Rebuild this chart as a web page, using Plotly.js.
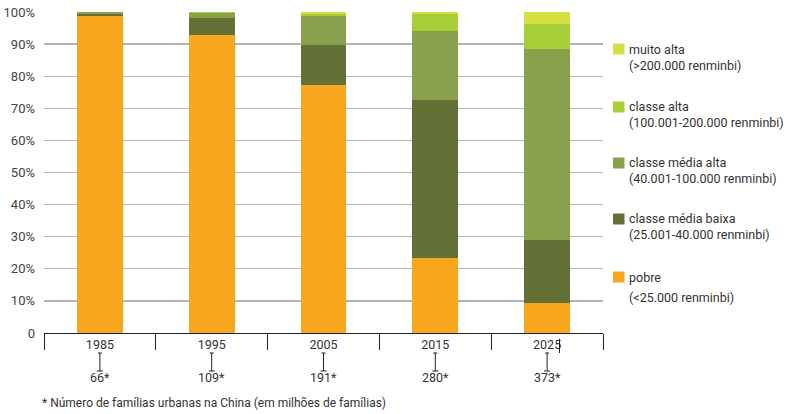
<!DOCTYPE html>
<html>
<head>
<meta charset="utf-8">
<script src="https://cdn.plot.ly/plotly-3.0.1.min.js"></script>
<style>html,body{margin:0;padding:0;background:#fff;}#chart{width:801px;height:414px;}</style>
</head>
<body>
<div id="chart"></div>
<script>
// ---- data ----
var years = ['1985', '1995', '2005', '2015', '2025'];
var households = ['66*', '109*', '191*', '280*', '373*'];
var pobre = [98.8, 92.9, 77.3, 23.3, 9.4];
var mediaBaixa = [0.6, 5.2, 12.5, 49.3, 19.6];
var mediaAlta = [0.6, 1.7, 9.0, 21.5, 59.6];
var alta = [0, 0.8, 0.6, 5.3, 7.7];
var muitoAlta = [0, 0, 0.6, 0.6, 3.7];
var seriesNames = ['pobre', 'classe média baixa', 'classe média alta', 'classe alta', 'muito alta'];
var seriesRanges = ['(<25.000 renminbi)', '(25.001-40.000 renminbi)', '(40.001-100.000 renminbi)', '(100.001-200.000 renminbi)', '(>200.000 renminbi)'];
var seriesColors = ['#f8a61d', '#637036', '#89a14c', '#a8ce38', '#d4df40'];
var yTickVals = [0, 10, 20, 30, 40, 50, 60, 70, 80, 90, 100];
var yTickText = ['0', '10%', '20%', '30%', '40%', '50%', '60%', '70%', '80%', '90%', '100%'];
var footnote = '* Número de famílias urbanas na China (em milhões de famílias)';

// ---- layout helpers (pixel -> paper) ----
var W = 801, H = 414, L = 44, R = 198, T = 12, B = 81;
var PW = W - L - R, PH = H - T - B;
function px(x) { return (x - L) / PW; }
function py(y) { return (H - B - y) / PH; }

var values = [pobre, mediaBaixa, mediaAlta, alta, muitoAlta];
var traces = values.map(function (v, i) {
  return {
    type: 'bar', x: years, y: v, name: seriesNames[i],
    marker: { color: seriesColors[i], line: { width: 0 } },
    hoverinfo: 'x+y+name', showlegend: false
  };
});

var fontFam = 'Roboto, "Noto Sans", sans-serif';
var shapes = [], annotations = [];

// connectors and household counts under each year
years.forEach(function (yr, i) {
  shapes.push({ type: 'line', xref: 'x', yref: 'paper', x0: i, x1: i, y0: py(353), y1: py(371), line: { color: '#222', width: 1 } });
  shapes.push({ type: 'line', xref: 'x', xsizemode: 'pixel', xanchor: i, yref: 'paper', x0: -2, x1: 2, y0: py(353), y1: py(353), line: { color: '#222', width: 1 } });
  shapes.push({ type: 'line', xref: 'x', xsizemode: 'pixel', xanchor: i, yref: 'paper', x0: -3, x1: 3, y0: py(371), y1: py(371), line: { color: '#222', width: 1 } });
  annotations.push({ xref: 'x', yref: 'paper', x: i, y: py(378), text: households[i], showarrow: false, xanchor: 'center', yanchor: 'middle', font: { family: fontFam, size: 12.5, color: '#333' } });
});
// stray tick next to 2025 label in the original
shapes.push({ type: 'line', xref: 'paper', yref: 'paper', x0: px(559.5), x1: px(559.5), y0: py(339), y1: py(353), line: { color: '#222', width: 1 } });

// footnote
annotations.push({ xref: 'paper', yref: 'paper', x: px(40), y: py(403), text: footnote, showarrow: false, xanchor: 'left', yanchor: 'middle', font: { family: fontFam, size: 12, color: '#333' } });

// legend (top to bottom: reversed stack order)
var legendLine1Y = [277, 219, 163, 107, 49];
var legendLine2Y = [297, 233, 177, 121, 64];
var legendFont = { family: fontFam, size: 12.5, color: '#333' };
for (var i = 0; i < seriesNames.length; i++) {
  var cy = legendLine1Y[i];
  shapes.push({ type: 'rect', xref: 'paper', yref: 'paper', x0: px(613), x1: px(624.5), y0: py(cy - 5.5), y1: py(cy + 5.5), fillcolor: seriesColors[i], line: { width: 0 } });
  if (legendLine2Y[i] - cy > 17) {
    annotations.push({ xref: 'paper', yref: 'paper', x: px(628), y: py(cy), text: seriesNames[i], showarrow: false, xanchor: 'left', yanchor: 'middle', borderpad: 0, font: legendFont });
    annotations.push({ xref: 'paper', yref: 'paper', x: px(628), y: py(legendLine2Y[i]), text: seriesRanges[i], showarrow: false, xanchor: 'left', yanchor: 'middle', borderpad: 0, font: legendFont });
  } else {
    annotations.push({ xref: 'paper', yref: 'paper', x: px(628), y: py((cy + legendLine2Y[i]) / 2 + 0.5), text: seriesNames[i] + '<br>' + seriesRanges[i], showarrow: false, align: 'left', xanchor: 'left', yanchor: 'middle', borderpad: 0, font: legendFont });
  }
}

var layout = {
  width: W, height: H,
  margin: { l: L, r: R, t: T, b: B, pad: 0 },
  paper_bgcolor: '#fff', plot_bgcolor: '#fff',
  barmode: 'stack', bargap: 0.59,
  showlegend: false,
  font: { family: fontFam, size: 12, color: '#333' },
  xaxis: {
    type: 'category', categoryorder: 'array', categoryarray: years,
    showline: true, linecolor: '#222', linewidth: 1,
    ticks: 'outside', tickson: 'boundaries', ticklen: 16, tickcolor: '#222', tickwidth: 1,
    tickfont: { family: fontFam, size: 12.5, color: '#333' },
    showgrid: false, zeroline: false, fixedrange: true
  },
  yaxis: {
    range: [0, 100], tickvals: yTickVals, ticktext: yTickText,
    showgrid: true, gridcolor: '#b3b3b3', gridwidth: 1.3,
    showline: false, zeroline: false, ticks: '',
    ticklabelstandoff: 8,
    tickfont: { family: fontFam, size: 13, color: '#444' },
    fixedrange: true
  },
  shapes: shapes,
  annotations: annotations
};

Plotly.newPlot('chart', traces, layout, { displayModeBar: false, staticPlot: true });
</script>
</body>
</html>
